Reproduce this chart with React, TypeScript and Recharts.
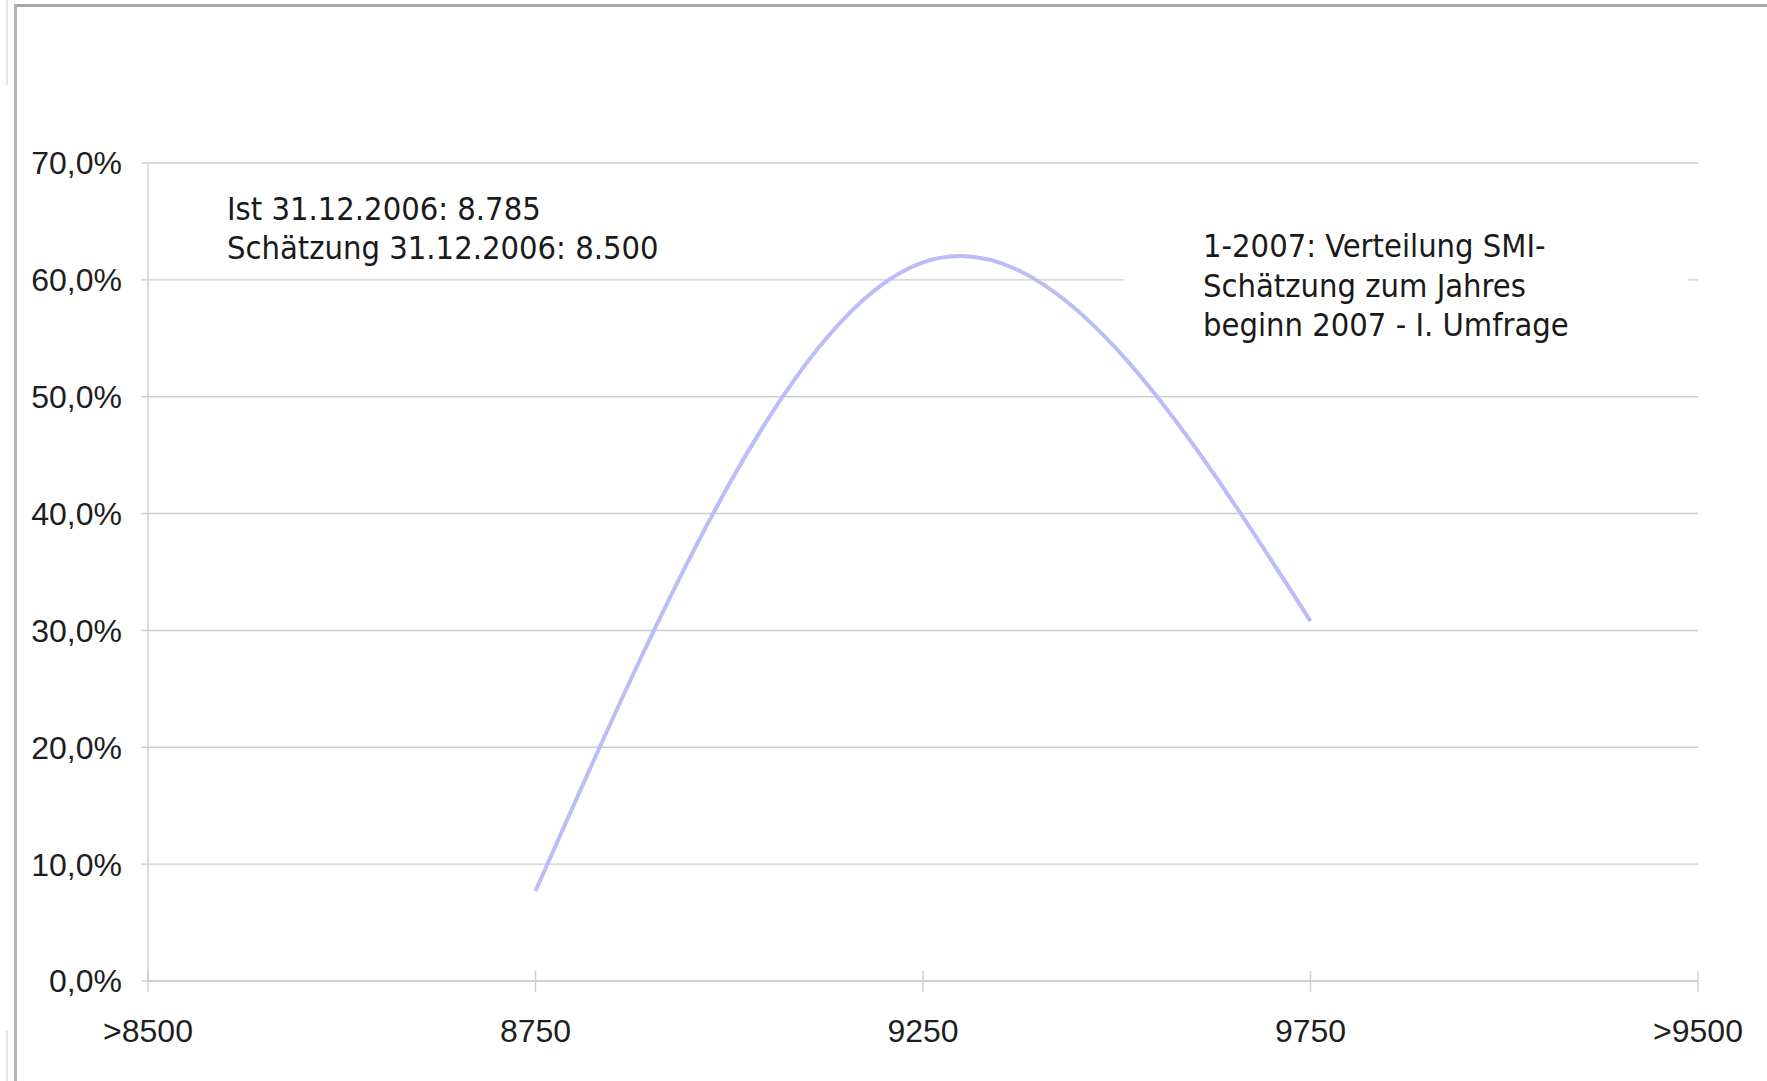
import React from 'react';
import { LineChart, Line, XAxis, YAxis, CartesianGrid, Customized } from 'recharts';

// Survey: SMI estimate for the start of 2007, share of answers per range
const categories = ['>8500', '8750', '9250', '9750', '>9500'];
const shares: (number | null)[] = [null, 7.7, 61.5, 30.8, null];
const yTicks = [0, 10, 20, 30, 40, 50, 60, 70];
const noteLeft = ['Ist 31.12.2006: 8.785', 'Schätzung 31.12.2006: 8.500'];
const noteRight = ['1-2007: Verteilung SMI-', 'Schätzung zum Jahres', 'beginn 2007 - I. Umfrage'];

const data = categories.map((c, i) => ({ category: c, share: shares[i] }));

const GRID = '#cdcdcd';
const TICK_FONT = "'Liberation Sans', Arial, sans-serif";
const NOTE_FONT = "'DejaVu Sans Condensed', 'DejaVu Sans', sans-serif";

const fmtPct = (v: number) => `${v.toFixed(1).replace('.', ',')}%`;

const XTick = (props: any) => {
  const { x, y, payload } = props;
  return (
    <g>
      <line x1={x} x2={x} y1={y - 10} y2={y + 11} stroke={GRID} strokeWidth={1.4} />
      <text
        x={x}
        y={y + 61}
        textAnchor="middle"
        fontFamily={TICK_FONT}
        fontSize={32}
        fill="#1e1e1e"
      >
        {payload.value}
      </text>
    </g>
  );
};

const Notes = () => (
  <g>
    <rect x={1124} y={226} width={564} height={122} fill="#ffffff" />
    <text fontFamily={NOTE_FONT} fontStretch="condensed" fontSize={32.4} fill="#1a1a1a">
      {noteLeft.map((t, i) => (
        <tspan key={t} x={227} y={220 + i * 39}>
          {t}
        </tspan>
      ))}
    </text>
    <text fontFamily={NOTE_FONT} fontStretch="condensed" fontSize={32.4} fill="#1a1a1a">
      {noteRight.map((t, i) => (
        <tspan key={t} x={1203} y={257 + i * 39.5}>
          {t}
        </tspan>
      ))}
    </text>
  </g>
);

export default function App() {
  return (
    <div style={{ position: 'absolute', left: 0, top: 0, width: 1767, height: 1081, background: '#fff', overflow: 'hidden' }}>
      {/* window frame */}
      <div style={{ position: 'absolute', left: 14, top: 4, right: 0, height: 3, background: '#a6a6a6' }} />
      <div style={{ position: 'absolute', left: 14, top: 4, bottom: 0, width: 3, background: '#b4b4b4' }} />
      <div style={{ position: 'absolute', left: 6, top: 0, height: 85, width: 2, background: '#e4e4e4' }} />
      <div style={{ position: 'absolute', left: 6, top: 1030, bottom: 0, width: 2, background: '#e4e4e4' }} />
      <div style={{ position: 'absolute', left: 0, top: 0 }}>
        <LineChart
          width={1767}
          height={1081}
          data={data}
          margin={{ top: 163, right: 69, bottom: 39, left: 0 }}
        >
          <CartesianGrid horizontal vertical={false} stroke={GRID} strokeWidth={1.4} />
          <Customized component={Notes} />
          <XAxis
            dataKey="category"
            height={61}
            axisLine={{ stroke: GRID, strokeWidth: 1.4 }}
            tickLine={false}
            tickSize={0}
            tickMargin={0}
            tick={<XTick />}
            interval={0}
          />
          <YAxis
            width={148}
            domain={[0, 70]}
            ticks={yTicks}
            interval={0}
            tickFormatter={fmtPct}
            axisLine={{ stroke: GRID, strokeWidth: 1.4 }}
            tickLine={{ stroke: GRID, strokeWidth: 1.4 }}
            tickSize={7}
            tickMargin={19}
            tick={{ fontFamily: TICK_FONT, fontSize: 32, fill: '#1e1e1e' }}
          />
          <Line
            type="natural"
            dataKey="share"
            stroke="#bcbcf6"
            strokeWidth={4}
            dot={false}
            activeDot={false}
            connectNulls={false}
            isAnimationActive={false}
          />
        </LineChart>
      </div>
    </div>
  );
}
